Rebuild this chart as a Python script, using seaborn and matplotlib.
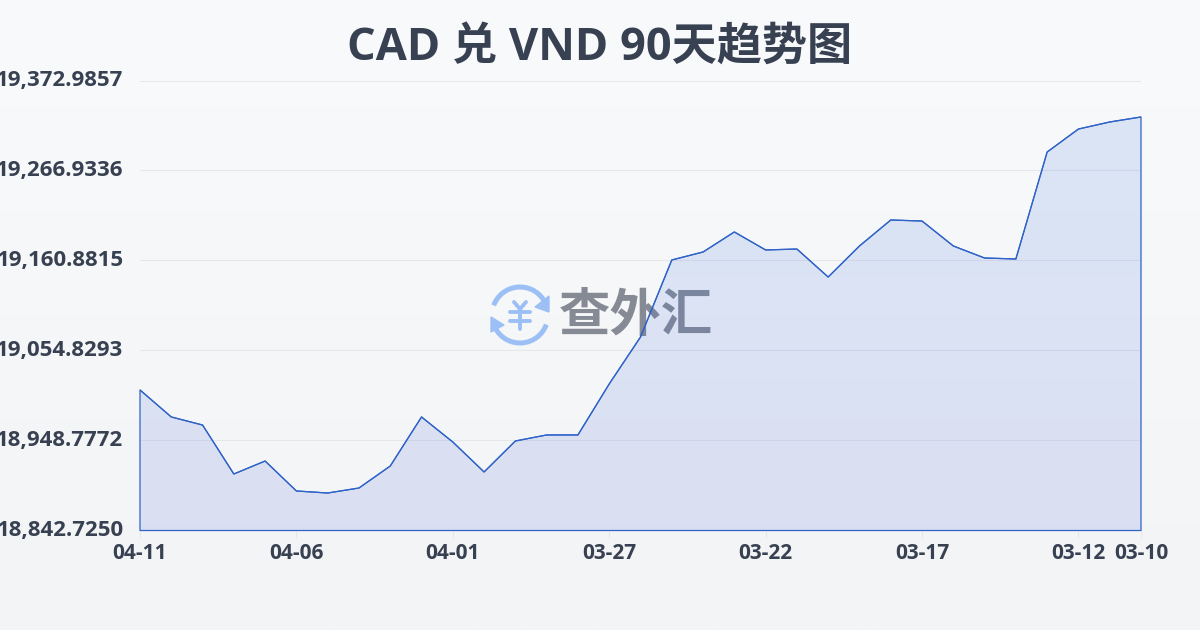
import numpy as np
import pandas as pd
import matplotlib.pyplot as plt
import seaborn as sns
from matplotlib.patches import Arc, Polygon

# data, newest date on the left
day_index = list(range(33))
rate = [
    19008.3, 18976.5, 18967.0, 18909.3, 18924.6, 18889.3, 18886.9, 18892.8,
    18918.7, 18976.5, 18947.0, 18911.7, 18948.2, 18955.3, 18955.3, 19015.4,
    19070.7, 19161.5, 19170.9, 19194.5, 19173.3, 19174.4, 19141.4, 19178.0,
    19208.6, 19207.4, 19178.0, 19163.8, 19162.7, 19288.7, 19315.8, 19324.1,
    19330.0,
]
x_ticks = [0, 5, 10, 15, 20, 25, 30, 32]
x_labels = ["04-11", "04-06", "04-01", "03-27", "03-22", "03-17", "03-12", "03-10"]
y_ticks = [18842.7250, 18948.7772, 19054.8293, 19160.8815, 19266.9336, 19372.9857]
y_labels = ["18,842.7250", "18,948.7772", "19,054.8293", "19,160.8815", "19,266.9336", "19,372.9857"]
title = "CAD 兑 VND 90天趋势图"
watermark = "查外汇"

LINE = "#2f63c8"
TEXT = "#374151"
LOGO = "#9cbff5"
LATIN = ["Open Sans", "Noto Sans CJK SC", "DejaVu Sans"]

sns.set_theme(style="white")
plt.rcParams["font.family"] = ["Noto Sans CJK SC", "DejaVu Sans"]

df = pd.DataFrame({"day": day_index, "rate": rate})

fig = plt.figure(figsize=(12, 6.3), dpi=100)

# page background and watermark sit under the chart, in pixel coordinates
bg = fig.add_axes([0, 0, 1, 1], zorder=0)
bg.set_xlim(0, 1200)
bg.set_ylim(630, 0)
bg.axis("off")
page = np.linspace(0, 1, 256).reshape(-1, 1)
bg_cmap = sns.blend_palette(["#f9fafc", "#f3f4f6"], as_cmap=True)
bg.imshow(page, cmap=bg_cmap, extent=(0, 1200, 630, 0), aspect="auto", zorder=0)

# logo: two arrows circling a yen sign
bg.add_patch(Arc((520, 315), 56, 56, theta1=200, theta2=328, color=LOGO, lw=3.6, zorder=1))
bg.add_patch(Arc((520, 315), 56, 56, theta1=20, theta2=150, color=LOGO, lw=3.6, zorder=1))
bg.add_patch(Polygon([[549, 296], [549, 312], [535, 307]], color=LOGO, zorder=1))
bg.add_patch(Polygon([[491, 317], [491, 332], [504, 325]], color=LOGO, zorder=1))
for xs, ys in [([514, 520, 526], [302, 309, 302]), ([510, 530], [312, 312]),
               ([510, 530], [321, 321]), ([520, 520], [309, 329])]:
    bg.plot(xs, ys, color=LOGO, lw=2.8, solid_capstyle="round", zorder=1)
bg.text(636, 315, watermark, fontsize=37, fontweight="bold", color="#868a94", ha="center", va="center", zorder=1)

ax = fig.add_axes([140 / 1200, 1 - 530.5 / 630, 1001 / 1200, 450 / 630], zorder=1)
ax.patch.set_alpha(0)

# area with a faint vertical gradient, clipped to the outline
poly = ax.fill_between(df["day"], df["rate"], y_ticks[0], facecolor="none", edgecolor=LINE,
                       linewidth=0.9, zorder=3, clip_on=False)
fill_cmap = sns.blend_palette(["#3a78e0", "#4a6cdc"], as_cmap=True)
grad = np.linspace(0, 1, 256).reshape(-1, 1)
rgba = fill_cmap(grad[:, 0]).reshape(-1, 1, 4)
rgba[..., 3] = 0.15
img = ax.imshow(rgba, extent=(0, 32, y_ticks[0], y_ticks[-1]), aspect="auto", zorder=2)
clip = Polygon(
    list(zip(day_index, rate)) + [(32, y_ticks[0]), (0, y_ticks[0])],
    transform=ax.transData,
)
img.set_clip_path(clip)

sns.lineplot(data=df, x="day", y="rate", color=LINE, linewidth=0.9, ax=ax, zorder=4)

ax.set_xlim(0, 32)
ax.set_ylim(y_ticks[0], y_ticks[-1])
ax.set_xlabel("")
ax.set_ylabel("")
ax.set_xticks(x_ticks)
ax.set_xticklabels(x_labels, fontsize=15, fontweight="bold", color=TEXT, family=LATIN)
ax.set_yticks(y_ticks)
ax.set_yticklabels(y_labels, fontsize=16, fontweight="bold", color=TEXT, family=LATIN, va="center")
ax.tick_params(axis="x", length=5, width=0.8, color="#e5e7eb", pad=4, bottom=True)
ax.tick_params(axis="y", length=0, pad=12)
ax.grid(axis="y", color="#e5e7eb", linewidth=0.8, zorder=1)
ax.set_axisbelow(True)
sns.despine(ax=ax, left=True, bottom=True)

fig.text(0.5, 1 - 48 / 630, title, fontsize=32.5, fontweight="bold", color=TEXT, ha="center", va="center", family=LATIN)

plt.savefig("out.png", dpi=100)
